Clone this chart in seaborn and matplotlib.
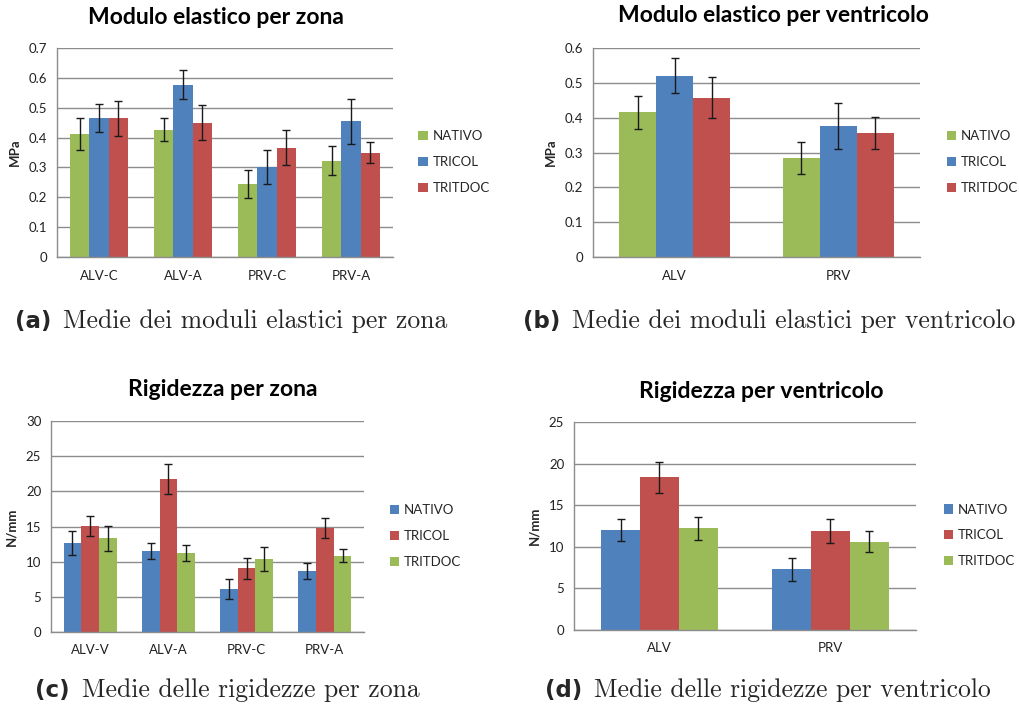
import numpy as np
import pandas as pd
import matplotlib
matplotlib.use("Agg")
import matplotlib.pyplot as plt
from matplotlib.patches import Patch
import seaborn as sns

sns.set_theme(style="white")
plt.rcParams["font.family"] = ["Lato", "DejaVu Sans"]

# ---- data ----
gruppi = ["NATIVO", "TRICOL", "TRITDOC"]

zone_mod = ["ALV-C", "ALV-A", "PRV-C", "PRV-A"]
mod_zona_nativo = [0.411, 0.426, 0.245, 0.323]
mod_zona_tricol = [0.465, 0.577, 0.301, 0.454]
mod_zona_tritdoc = [0.465, 0.450, 0.366, 0.350]
err_zona_nativo = [0.053, 0.038, 0.047, 0.049]
err_zona_tricol = [0.048, 0.048, 0.056, 0.074]
err_zona_tritdoc = [0.059, 0.059, 0.058, 0.036]

ventricoli = ["ALV", "PRV"]
mod_vent_nativo = [0.415, 0.284]
mod_vent_tricol = [0.520, 0.376]
mod_vent_tritdoc = [0.457, 0.356]
err_vent_nativo = [0.047, 0.047]
err_vent_tricol = [0.050, 0.066]
err_vent_tritdoc = [0.059, 0.046]

zone_rig = ["ALV-V", "ALV-A", "PRV-C", "PRV-A"]
rig_zona_nativo = [12.6, 11.55, 6.15, 8.66]
rig_zona_tricol = [15.05, 21.77, 9.09, 14.77]
rig_zona_tritdoc = [13.3, 11.26, 10.36, 10.84]
errr_zona_nativo = [1.7, 1.1, 1.4, 1.15]
errr_zona_tricol = [1.42, 2.1, 1.5, 1.4]
errr_zona_tritdoc = [1.75, 1.1, 1.7, 0.95]

rig_vent_nativo = [12.0, 7.3]
rig_vent_tricol = [18.34, 11.88]
rig_vent_tritdoc = [12.24, 10.59]
errr_vent_nativo = [1.36, 1.36]
errr_vent_tricol = [1.85, 1.48]
errr_vent_tritdoc = [1.4, 1.25]

ticks_mod_zona = ["0", "0.1", "0.2", "0.3", "0.4", "0.5", "0.6", "0.7"]
ticks_mod_vent = ["0", "0.1", "0.2", "0.3", "0.4", "0.5", "0.6"]
ticks_rig_zona = ["0", "5", "10", "15", "20", "25", "30"]
ticks_rig_vent = ["0", "5", "10", "15", "20", "25"]

BLUE, RED, GREEN = "#4F81BD", "#C0504D", "#9BBB59"
GRID = "#8C8C8C"

fig = plt.figure(figsize=(10.2, 7.06), dpi=100)
W, H = 1020, 706


def px_axes(left, top, right, bottom):
    return fig.add_axes([left / W, 1 - bottom / H, (right - left) / W, (bottom - top) / H])


def panel(ax, cats, series, errors, colors, ticks, step, ylabel, title, title_xy, leg_xy):
    rows = []
    for g, vals in zip(gruppi, series):
        for c, v in zip(cats, vals):
            rows.append({"cat": c, "gruppo": g, "val": v})
    df = pd.DataFrame(rows)
    sns.barplot(data=df, x="cat", y="val", hue="gruppo", hue_order=gruppi,
                order=cats, palette=colors, width=0.68, gap=0, errorbar=None,
                saturation=1, linewidth=0, legend=False, ax=ax)
    for cont, errs in zip(ax.containers, errors):
        xs = [b.get_x() + b.get_width() / 2 for b in cont]
        hs = [b.get_height() for b in cont]
        ax.errorbar(xs, hs, yerr=errs, fmt="none", ecolor="#1a1a1a",
                    elinewidth=1.0, capsize=3.0, capthick=1.0, zorder=5)
    ymax = step * (len(ticks) - 1)
    ax.set_ylim(0, ymax)
    ax.set_xlim(-0.5, len(cats) - 0.5)
    ax.set_yticks([i * step for i in range(len(ticks))])
    ax.set_yticklabels(ticks, fontsize=9.5, color="#222222")
    ax.set_xticks(range(len(cats)))
    ax.set_xticklabels(cats, fontsize=9.5, color="#222222")
    ax.set_xticks(np.arange(-0.5, len(cats)), minor=True)
    ax.tick_params(axis="x", which="major", length=0, pad=9)
    ax.tick_params(axis="x", which="minor", length=4, color=GRID, width=1, direction="out")
    ax.tick_params(axis="y", length=4, color=GRID, width=1, direction="out", pad=3)
    ax.yaxis.grid(True, color=GRID, linewidth=1)
    ax.set_axisbelow(True)
    for s in ["top", "right"]:
        ax.spines[s].set_visible(False)
    for s in ["left", "bottom"]:
        ax.spines[s].set_color(GRID)
        ax.spines[s].set_linewidth(1)
    ax.set_xlabel("")
    ax.set_ylabel(ylabel, fontsize=9.5, fontweight="bold", labelpad=6)
    fig.text(title_xy[0] / W, 1 - title_xy[1] / H, title, ha="center", va="center",
             fontsize=16.5, fontweight="bold", color="black")
    handles = [Patch(facecolor=c, edgecolor="none") for c in colors]
    ax.legend(handles, gruppi, loc="center left",
              bbox_to_anchor=(leg_xy[0], leg_xy[1]), frameon=False, fontsize=9.5,
              handlelength=0.7, handleheight=0.7, handletextpad=0.4, labelspacing=1.05,
              borderaxespad=0)


ax_a = px_axes(57, 48, 393, 257)
panel(ax_a, zone_mod, [mod_zona_nativo, mod_zona_tricol, mod_zona_tritdoc],
      [err_zona_nativo, err_zona_tricol, err_zona_tritdoc], [GREEN, BLUE, RED],
      ticks_mod_zona, 0.1, "MPa", "Modulo elastico per zona", (216, 17), (1.06, 0.455))

ax_b = px_axes(593, 48, 920, 257)
panel(ax_b, ventricoli, [mod_vent_nativo, mod_vent_tricol, mod_vent_tritdoc],
      [err_vent_nativo, err_vent_tricol, err_vent_tritdoc], [GREEN, BLUE, RED],
      ticks_mod_vent, 0.1, "MPa", "Modulo elastico per ventricolo", (773, 16), (1.065, 0.455))

ax_c = px_axes(51, 421, 364, 632)
panel(ax_c, zone_rig, [rig_zona_nativo, rig_zona_tricol, rig_zona_tritdoc],
      [errr_zona_nativo, errr_zona_tricol, errr_zona_tritdoc], [BLUE, RED, GREEN],
      ticks_rig_zona, 5, "N/mm", "Rigidezza per zona", (223, 390), (1.065, 0.455))

ax_d = px_axes(574, 422, 916, 630)
panel(ax_d, ventricoli, [rig_vent_nativo, rig_vent_tricol, rig_vent_tritdoc],
      [errr_vent_nativo, errr_vent_tricol, errr_vent_tritdoc], [BLUE, RED, GREEN],
      ticks_rig_vent, 5, "N/mm", "Rigidezza per ventricolo", (761, 392), (1.065, 0.455))

# sub-figure captions: bold sans tag followed by serif text
captions = [("(a)", "Medie dei moduli elastici per zona", 15, 328),
            ("(b)", "Medie dei moduli elastici per ventricolo", 523, 328),
            ("(c)", "Medie delle rigidezze per zona", 35, 697),
            ("(d)", "Medie delle rigidezze per ventricolo", 545, 697)]
fig.canvas.draw()
renderer = fig.canvas.get_renderer()
for tag, txt, x, y in captions:
    t = fig.text(x / W, 1 - y / H, tag, ha="left", va="baseline", fontsize=16.5,
                 fontweight="bold", family=["DejaVu Sans"])
    bb = t.get_window_extent(renderer)
    fig.text((bb.x1 + 12) / W, 1 - y / H, txt, ha="left", va="baseline", fontsize=18.5,
             family=["cmr10", "DejaVu Serif"])

fig.savefig("out.png", dpi=100)
